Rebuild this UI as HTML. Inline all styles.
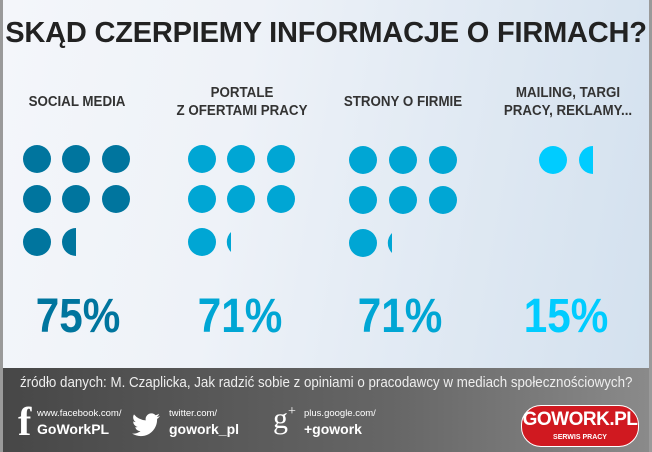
<!DOCTYPE html>
<html><head><meta charset="utf-8"><style>
body{margin:0;width:652px;height:452px;overflow:hidden;font-family:"Liberation Sans",sans-serif;}
.w{position:relative;width:652px;height:452px;background:linear-gradient(100deg,#f4f6fa 0%,#eef2f8 35%,#e3ebf4 60%,#d2e0ee 100%);}
.t{position:absolute;left:0;width:652px;top:17px;text-align:center;font-weight:bold;font-size:29px;color:#222;letter-spacing:-0.2px;}
.h{position:absolute;width:160px;text-align:center;font-weight:bold;font-size:14.5px;line-height:18px;color:#333;transform:scaleX(0.92);}
.p{position:absolute;width:160px;text-align:center;font-weight:bold;font-size:48px;top:289px;transform:scaleX(0.88);}
.f{position:absolute;left:3px;right:3px;top:368px;height:84px;background:linear-gradient(90deg,#474747,#666 60%,#8a8a8a);color:#fff;}
.bl{position:absolute;left:0;top:0;width:3px;height:452px;background:#9a9a9a}
.br{position:absolute;right:0;top:0;width:3px;height:452px;background:#9a9a9a}
.s{position:absolute;font-size:9.5px}
.b{position:absolute;font-size:14px;font-weight:bold}
</style></head><body><div class="w">
<div class="bl"></div><div class="br"></div>
<div class="t">SKĄD CZERPIEMY INFORMACJE O FIRMACH?</div>
<div class="h" style="left:-3px;top:93px">SOCIAL MEDIA</div>
<div class="h" style="left:162px;top:84px">PORTALE<br>Z OFERTAMI PRACY</div>
<div class="h" style="left:323px;top:93px">STRONY O FIRMIE</div>
<div class="h" style="left:488px;top:84px">MAILING, TARGI<br>PRACY, REKLAMY...</div>
<svg style="position:absolute;left:0;top:0" width="652" height="452">
<g fill="#00759e"><circle cx="37" cy="159" r="14"/><circle cx="76" cy="159" r="14"/><circle cx="116" cy="159" r="14"/><circle cx="37" cy="199" r="14"/><circle cx="76" cy="199" r="14"/><circle cx="116" cy="199" r="14"/><circle cx="37" cy="242" r="14"/><path d="M76 228 A14 14 0 0 0 76 256 Z"/></g>
<g fill="#00a6d4"><circle cx="202" cy="159" r="14"/><circle cx="241" cy="159" r="14"/><circle cx="281" cy="159" r="14"/><circle cx="202" cy="199" r="14"/><circle cx="241" cy="199" r="14"/><circle cx="281" cy="199" r="14"/><circle cx="202" cy="242" r="14"/><path d="M231 232 A14 14 0 0 0 231 252 Z"/>
<circle cx="363" cy="160" r="14"/><circle cx="403" cy="160" r="14"/><circle cx="443" cy="160" r="14"/><circle cx="363" cy="200" r="14"/><circle cx="403" cy="200" r="14"/><circle cx="443" cy="200" r="14"/><circle cx="363" cy="243" r="14"/><path d="M392 233 A14 14 0 0 0 392 253 Z"/></g>
<g fill="#00ccff"><circle cx="553" cy="160" r="14"/><path d="M593 146 A14 14 0 0 0 593 174 Z"/></g>
</svg>
<div class="p" style="left:-2px;color:#00759e">75%</div>
<div class="p" style="left:160px;color:#00a6d4">71%</div>
<div class="p" style="left:320px;color:#00a6d4">71%</div>
<div class="p" style="left:486px;color:#00ccff">15%</div>
<div class="f">
<div style="position:absolute;left:17px;top:7px;font-size:14.5px;color:#eee;white-space:nowrap;transform:scaleX(0.92);transform-origin:left">źródło danych: M. Czaplicka, Jak radzić sobie z opiniami o pracodawcy w mediach społecznościowych?</div>
<div style="position:absolute;left:15px;top:30px;font-size:40px;font-weight:bold;font-family:'Liberation Serif',serif">f</div>
<div class="s" style="left:34px;top:40px">www.facebook.com/</div>
<div class="b" style="left:34px;top:53px">GoWorkPL</div>
<svg style="position:absolute;left:129px;top:45px" width="28" height="24" viewBox="0 0 24 20"><path fill="#fff" d="M24 2.3a10 10 0 0 1-2.8.8A5 5 0 0 0 23.3.4a10 10 0 0 1-3.1 1.2A4.9 4.9 0 0 0 11.8 6 14 14 0 0 1 1.7.9a4.9 4.9 0 0 0 1.5 6.6A4.9 4.9 0 0 1 1 6.9a4.9 4.9 0 0 0 3.9 4.8 5 5 0 0 1-2.2.1 4.9 4.9 0 0 0 4.6 3.4A9.9 9.9 0 0 1 0 17.3 14 14 0 0 0 7.5 19.5c9.1 0 14-7.5 14-14v-.6A10 10 0 0 0 24 2.3z"/></svg>
<div class="s" style="left:166px;top:40px">twitter.com/</div>
<div class="b" style="left:166px;top:53px">gowork_pl</div>
<div style="position:absolute;left:270px;top:34px;font-size:30px;font-family:'Liberation Serif',serif">g</div>
<div style="position:absolute;left:285px;top:36px;font-size:14px;font-family:'Liberation Serif',serif">+</div>
<div class="s" style="left:301px;top:40px">plus.google.com/</div>
<div class="b" style="left:301px;top:53px">+gowork</div>
<div style="position:absolute;left:518px;top:37px;width:116px;height:40px;border-radius:20px;background:#d01920;border:1px solid #fff;text-align:center;font-weight:bold;font-size:19px;line-height:28px;letter-spacing:-0.5px">GOWORK.PL<div style="font-size:7px;line-height:7px;letter-spacing:0">SERWIS PRACY</div></div>
</div>
</div></body></html>
